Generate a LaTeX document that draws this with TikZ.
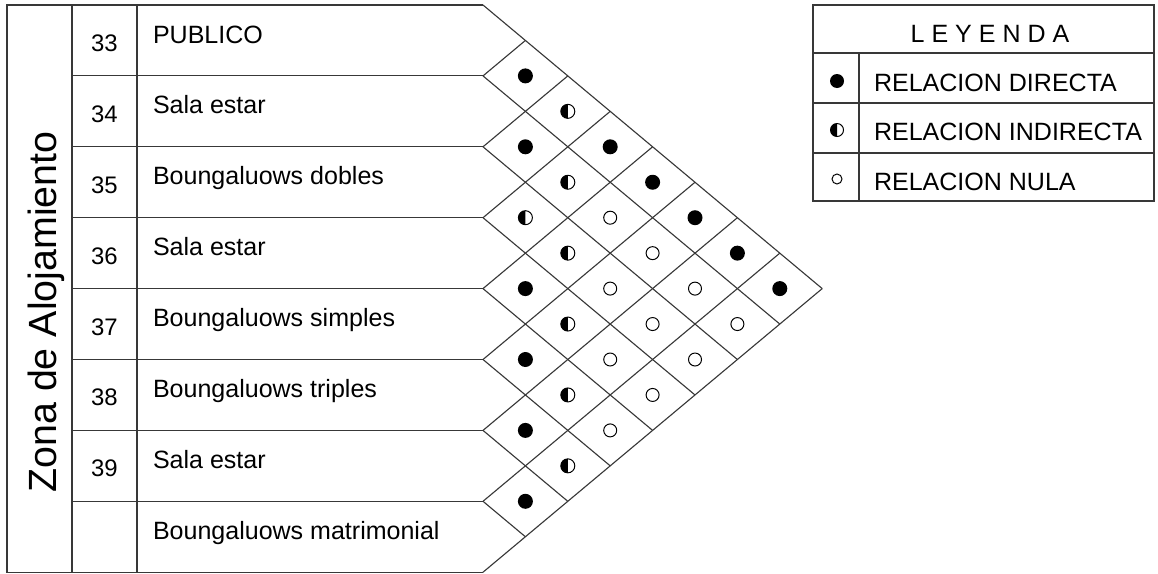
\documentclass[tikz,border=0pt]{standalone}
\usepackage{fontspec}
\setmainfont{Liberation Sans}
\definecolor{Ink}{rgb}{0.22, 0.22, 0.22}

\begin{document}
\begin{tikzpicture}[
  x=0.025cm, y=-0.025cm,
  every node/.style={inner sep=0pt, outer sep=0pt},
  rule/.style={Ink, line width=0.8pt},
  rowtext/.style={font=\fontsize{17.8}{20}\selectfont, anchor=base west},
  numtext/.style={font=\fontsize{17}{20}\selectfont, anchor=base},
  dotfull/.style={fill=black},
  dotnone/.style={draw=black, line width=0.7pt, fill=white}
]
\useasboundingbox (0,0) rectangle (1158,573);

% Sheet dimensions (one unit = one pixel of the sheet)
\def\xa{7}      % outer left edge
\def\xb{72}     % zone / number border
\def\xc{137}    % number / name border
\def\xd{483}    % start of the relation matrix
\def\yt{5}      % top edge
\def\rh{70.9}   % row height
\def\hw{42.4}   % half width of a matrix cell

% ============================================================
% TABLE: zone, numbers, names
% ============================================================
\draw[rule] (\xd,\yt) -- (\xa,\yt) -- (\xa,\yt+8*\rh) -- (\xd,\yt+8*\rh);
\draw[rule] (\xb,\yt) -- (\xb,\yt+8*\rh);
\draw[rule] (\xc,\yt) -- (\xc,\yt+8*\rh);
\foreach \k in {1,...,7}{
  \draw[rule] (\xb,\yt+\k*\rh) -- (\xd,\yt+\k*\rh);
}

\node[font=\fontsize{28}{31}\selectfont, rotate=90, anchor=base]
  (zona) at (56,312) {Zona de Alojamiento};

\foreach \k/\n in {0/33, 1/34, 2/35, 3/36, 4/37, 5/38, 6/39}{
  \node[numtext] (num\n) at ({(\xb+\xc)/2},{\yt+(\k+0.5)*\rh+11}) {\n};
}

\foreach \k/\name in {0/PUBLICO, 1/Sala estar, 2/Boungaluows dobles,
    3/Sala estar, 4/Boungaluows simples, 5/Boungaluows triples,
    6/Sala estar, 7/Boungaluows matrimonial}{
  \node[rowtext] (name\k) at (153,{\yt+\k*\rh+38}) {\name};
}

% ============================================================
% RELATION MATRIX
% ============================================================
% Lines running down to the right
\foreach \k in {0,...,7}{
  \draw[rule] (\xd,\yt+\k*\rh) -- ++({(8-\k)*\hw},{(8-\k)*\rh/2});
}
% Lines running up to the right
\foreach \k in {1,...,8}{
  \draw[rule] (\xd,\yt+\k*\rh) -- ++({\k*\hw},{-\k*\rh/2});
}

% Cell of rows i and j sits at x = xd+(j-i)*hw, y = yt+(i+j+1)*rh/2
% Direct relation
\foreach \i/\j in {0/1, 1/2, 3/4, 4/5, 5/6, 6/7, 0/3, 0/4, 0/5, 0/6, 0/7}{
  \fill[dotfull] ({\xd+(\j-\i)*\hw},{\yt+(\i+\j+1)*\rh/2}) circle (7.5);
}
% Indirect relation
\foreach \i/\j in {2/3, 0/2, 1/3, 2/4, 3/5, 4/6, 5/7}{
  \coordinate (cell) at ({\xd+(\j-\i)*\hw},{\yt+(\i+\j+1)*\rh/2});
  \draw[dotnone] (cell) circle (7);
  \fill (cell) ++(90:7) arc (90:270:7) -- cycle;
}
% No relation
\foreach \i/\j in {1/4, 2/5, 3/6, 4/7, 1/5, 2/6, 3/7, 1/6, 2/7, 1/7}{
  \draw[dotnone] ({\xd+(\j-\i)*\hw},{\yt+(\i+\j+1)*\rh/2}) circle (6.5);
}

% ============================================================
% LEGEND
% ============================================================
\def\lx{813}    % legend left
\def\lr{1154}   % legend right
\def\lv{859}    % symbol / text border

\draw[rule] (\lx,5) rectangle (\lr,201);
\foreach \y in {53, 103, 153}{
  \draw[rule] (\lx,\y) -- (\lr,\y);
}
\draw[rule] (\lv,53) -- (\lv,201);

\node[rowtext, anchor=base] (leyenda) at (990,42) {L E Y E N D A};
\node[rowtext] (directa) at (874,91) {RELACION DIRECTA};
\node[rowtext] (indirecta) at (874,140) {RELACION INDIRECTA};
\node[rowtext] (nula) at (874,190) {RELACION NULA};

\fill[dotfull] (837,81) circle (7);
\coordinate (keyhalf) at (837,130);
\draw[dotnone] (keyhalf) circle (6.5);
\fill (keyhalf) ++(90:6.5) arc (90:270:6.5) -- cycle;
\draw[dotnone] (837,179) circle (5);

\end{tikzpicture}
\end{document}
